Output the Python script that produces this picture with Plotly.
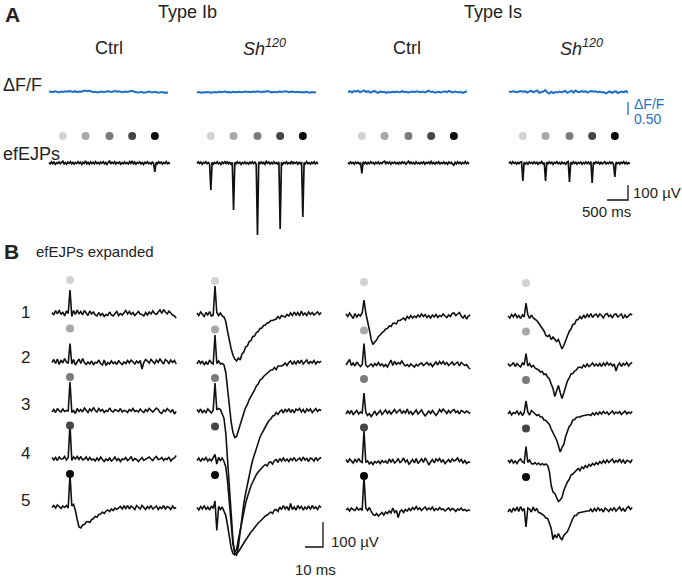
import plotly.graph_objects as go

W, H = 682, 579

# ---------------- data ----------------
group_titles = ["Type Ib", "Type Is"]
col_titles = ["Ctrl", "<i>Sh</i><sup><i>120</i></sup>", "Ctrl", "<i>Sh</i><sup><i>120</i></sup>"]
row_labels = ["1", "2", "3", "4", "5"]
dot_colors = ["#d2d2d2", "#a8a8a8", "#7b7b7b", "#464646", "#0a0a0a"]

stim_times_A = [330, 870, 1440, 1980, 2520]   # ms
dt_A_black = 30    # ms per sample
dt_A_blue = 48     # ms per sample
dt_B = 1           # ms per sample
stim_time_B = 10   # ms

# Panel A: dF/F (percent)
dff_ctrl_ib = [0,2,-1,3,1,-2,2,0,3,1,4,2,0,3,-1,2,1,4,6,3,5,2,0,1,-2,0,2,-1,1,3,2,0,2,4,1,3,-1,1,2,0,3,5,2,0,-2,-1,1,-3,-1,0,2,-2,0,1,-3,-1,0,-2,-4,-1]
dff_sh_ib = [-2,0,-3,-1,-2,0,-1,-3,-1,0,-2,1,-1,0,2,-1,0,-2,1,-1,0,1,-1,1,2,0,1,-1,2,0,3,1,-1,2,1,4,0,-2,1,-1,0,2,0,1,3,1,-1,2,0,-1,1,-1,0,-2,1,-1,-3,0,-2,-1]
dff_ctrl_is = [0,3,-2,4,1,5,-1,2,6,0,3,-2,1,4,0,-3,2,-1,1,-3,0,-2,1,-1,2,-1,0,3,-1,1,-2,0,2,-1,3,1,-1,2,-2,1,5,0,2,-3,-1,1,-2,0,3,-1,4,1,-2,2,0,-2,1,-3,0,3]
dff_sh_is = [2,0,3,1,-1,2,4,0,3,-2,1,5,-1,3,6,-3,-1,2,7,-2,-6,1,-4,0,-2,2,-1,1,4,-3,2,5,-2,6,1,-1,4,0,3,-2,2,4,1,3,-1,2,-2,0,-5,-1,2,-3,1,3,-4,0,2,-1,4,-3]

# Panel A: efEJPs (uV)
efejp_ctrl_ib = [3,-6,8,-4,5,-9,2,-3,7,-5,4,12,-6,3,-8,6,-2,9,-5,4,-7,3,-4,8,-3,6,-9,5,-2,14,-6,4,-8,7,-3,5,-6,9,-4,3,-7,6,-2,8,-5,4,-9,3,16,-6,5,-3,8,-7,4,-2,6,-8,3,-5,7,-4,2,-6,9,-3,14,-5,6,-8,4,-2,7,-6,3,-9,5,-3,8,-4,2,-7,6,-3,-60,4,-5,8,-2,6,-7,3,-4,9,-5,2,-6]
efejp_sh_ib = [-4,7,-3,6,-8,4,-2,9,-5,3,-6,-180,5,-7,4,-3,8,-5,2,-9,6,-3,7,-4,10,-6,3,-8,5,-313,4,-6,8,-2,5,-9,3,-4,7,-5,2,-7,6,-3,9,-4,5,-8,-480,6,-3,7,-5,4,-8,10,-2,6,-7,3,-5,8,-4,2,-6,7,-440,5,-9,4,-3,8,-6,3,-4,12,-7,5,-2,6,-8,4,-5,7,-360,3,-6,9,-4,2,-7,5,-3,8,-5,4,-6]
efejp_ctrl_is = [2,-5,7,-3,4,-8,6,-2,5,-6,3,-70,8,-4,6,-7,3,-5,9,-2,4,-8,5,-3,7,-6,2,-4,8,12,-5,6,-3,7,-8,4,-2,6,-5,3,-7,5,-4,8,-2,6,-9,4,12,-3,6,-5,3,-7,8,-4,2,-6,5,-3,7,-8,4,-2,6,-5,10,-4,3,-7,5,-3,8,-6,2,-4,7,-5,3,-8,6,-2,5,-7,-14,4,-6,8,-3,5,-7,3,-4,9,-5,4,-6]
efejp_sh_is = [-3,6,-5,8,-2,4,-7,3,-4,6,8,-120,5,-6,3,-8,6,-2,4,-5,7,-3,5,-8,4,-2,9,-6,3,-120,6,-4,7,-3,5,-9,4,-2,8,-5,3,-7,6,-4,2,-8,5,9,-127,4,-6,8,-3,5,-7,4,-2,6,-8,3,-5,7,-3,6,-9,10,-133,5,-4,8,-2,6,-7,4,-5,3,8,-6,2,-4,7,-3,5,-8,-93,6,-4,3,-7,5,-2,8,-5,4,-6,3,-4]

# Panel B: expanded efEJPs (uV), rows 1-5
exp_ctrl_ib = [
    [2,-8,10,-4,12,-6,4,-12,8,-2,92,-14,10,-6,12,-4,6,-8,10,-2,-10,8,-4,4,-8,-12,2,-10,-2,-14,-6,-10,4,-8,-12,-2,6,-10,-2,-8,2,10,-4,6,-6,2,-10,0,6,-4,-6,-12,2,-8,4,-4,8,-2,-6,4,12,-2,14,4,-4,8,-2,-8,-12,-20],
    [-4,8,-8,10,-12,6,-6,12,-2,-8,72,-10,8,-14,-2,10,-8,12,-4,-12,-2,-10,2,-12,-4,-6,6,-8,-14,6,-16,-4,-10,2,-8,-2,-12,4,-6,-12,-2,-8,4,-6,6,-4,-10,2,-6,4,-30,-4,8,2,-6,8,-2,-8,6,-4,10,-2,-10,8,2,-8,6,-4,4,-10],
    [-8,2,-10,6,-4,-8,4,-6,-2,-4,112,-10,-2,-14,6,-6,2,-8,8,-2,-10,4,-4,10,-2,-8,6,-4,2,-10,-2,-6,8,-4,-8,2,-2,-6,6,-8,-2,-4,-10,2,-4,6,-6,-2,-8,4,-4,-10,2,-6,6,-2,-8,0,8,2,-10,-14,0,-6,6,-2,-8,2,-16,-6],
    [4,-6,4,-8,6,-2,-2,8,-6,4,135,-8,6,-2,8,-4,8,-6,-2,6,-8,4,-6,-2,-10,2,-8,6,-4,-12,-2,-8,2,-10,-4,6,-8,0,-12,-2,-4,4,-8,-2,8,-10,0,-4,-12,-2,4,-8,-4,0,6,-2,-8,2,8,-4,-2,4,-8,0,-4,6,-10,-2,2,12],
    [-2,6,-4,8,2,-6,4,-2,6,-4,130,4,10,-14,-50,-80,-84,-72,-70,-60,-58,-62,-50,-46,-38,-40,-30,-28,-20,-26,-16,-12,-18,-8,-14,-4,-10,-2,2,-8,4,-6,6,-8,4,-2,-10,6,-2,-8,6,-2,-10,2,-6,6,-8,-2,4,-10,0,-6,6,-8,2,-2,-10,4,-6,-2],
]
exp_sh_ib = [
    [4,-6,8,-2,-10,6,-4,10,-8,-4,112,6,-6,4,-8,-12,-30,-70,-110,-140,-165,-180,-188,-176,-184,-160,-152,-132,-128,-110,-106,-90,-88,-74,-70,-58,-56,-46,-44,-36,-34,-26,-26,-22,-20,-10,-18,-6,-8,-12,-2,-8,4,-6,8,-4,6,-8,12,-4,4,-6,8,-2,6,-4,2,8,-2,6],
    [-6,8,-4,6,-10,2,-8,10,-2,-6,110,-4,6,-6,-4,-10,-40,-110,-180,-240,-280,-300,-296,-270,-248,-220,-202,-180,-168,-148,-136,-120,-110,-94,-86,-70,-66,-56,-50,-42,-38,-30,-30,-20,-28,-14,-14,-14,-10,-2,-12,0,6,-8,4,-6,8,-4,10,-6,2,10,-6,4,-2,8,-6,4,0,6],
    [6,-4,8,-6,2,-6,8,-2,-8,4,112,4,10,6,-10,-30,-90,-200,-320,-430,-520,-570,-576,-540,-480,-420,-370,-330,-290,-255,-225,-195,-170,-145,-125,-105,-90,-75,-60,-50,-38,-32,-20,-18,-6,-14,-2,4,-8,8,-4,10,-6,6,-8,8,2,10,-4,6,-8,8,0,8,-6,4,10,-2,6,2],
    [-4,6,-8,4,-2,8,-6,2,-6,10,20,-18,8,-4,6,-8,-30,-90,-180,-270,-340,-370,-360,-320,-280,-240,-205,-175,-150,-125,-105,-90,-74,-60,-50,-40,-34,-26,-20,-26,-12,-10,-18,-4,0,-12,4,-6,6,-6,2,-8,4,-4,8,-6,0,6,-6,10,-2,4,-8,6,2,-6,8,-4,4,8],
    [2,-8,6,-4,10,-6,4,-8,8,-2,28,-90,6,-6,4,-10,-30,-70,-120,-160,-182,-188,-180,-176,-164,-150,-140,-128,-118,-106,-96,-88,-78,-70,-60,-54,-46,-40,-32,-28,-22,-16,-22,-8,-6,-14,4,-6,10,-4,6,-10,18,-6,4,-8,10,-2,6,-8,4,-4,8,-6,10,-2,4,-6,8,2],
]
exp_ctrl_is = [
    [4,-6,8,-4,-14,6,-8,2,-4,8,60,8,-20,-60,-98,-118,-108,-100,-86,-80,-70,-66,-56,-54,-44,-46,-34,-32,-36,-22,-22,-18,-12,-20,-6,-14,-2,-12,-4,-10,0,-8,4,-6,2,-10,-2,-12,0,-8,2,-10,-2,-6,4,-4,-10,0,-6,6,8,-2,6,10,-4,-12,-2,-16,-4,0],
    [-6,4,16,-8,2,-10,6,-4,-12,-4,80,-6,-14,-8,-2,-12,0,-8,4,-8,-2,-12,-4,-14,0,14,-8,8,-4,4,-2,10,-2,-10,-4,-12,-2,-8,-14,-4,-10,-2,2,-8,-2,4,-6,0,-12,-2,6,-6,8,-2,8,-4,4,-8,-2,6,-6,2,6,-10,4,-2,-8,-4,-16,-22],
    [-8,4,-6,6,-10,-2,6,-8,0,-4,76,-2,-14,-6,-18,-8,4,-12,-4,6,-10,-2,8,-6,4,-8,0,10,-4,2,10,-6,4,-4,12,-6,2,-10,-2,8,-8,0,8,-6,-16,-6,4,-6,6,-4,-14,-4,10,0,12,4,-6,6,-4,6,10,-2,4,-8,6,2,-4,4,0,-6],
    [4,-8,6,-2,-10,4,-6,8,-4,-8,118,-8,-2,-14,-6,-16,-4,-10,-2,-12,0,-8,-2,-12,6,-6,4,-10,-4,8,-8,-2,10,-6,2,-16,-4,4,-10,8,-12,-2,6,-8,10,-2,-18,-6,4,-10,6,-2,8,-6,2,-12,-4,4,-8,6,-2,2,10,-4,4,-10,0,-12,-6,-8],
    [-4,2,-8,4,-2,-6,6,-4,2,-6,130,4,-6,6,-10,-22,-26,-18,-28,-20,-14,-24,-12,-18,-8,-16,4,-14,-6,-34,-10,-4,-14,-2,-8,2,-6,6,-2,10,-2,4,-6,2,8,-4,4,-2,8,-6,2,-4,6,-2,0,-8,-2,4,-6,2,-2,-10,0,-4,4,-6,-2,-8,-4,-6],
]
exp_sh_is = [
    [0,-8,6,-4,10,-6,2,-10,4,-4,52,6,-10,4,-8,-14,-18,-28,-40,-50,-60,-78,-82,-76,-94,-84,-92,-102,-94,-116,-132,-118,-96,-80,-62,-52,-34,-32,-16,-14,-2,-12,4,-8,6,-4,10,-6,4,8,-4,8,2,-8,6,10,-2,4,-8,6,8,-4,2,8,-10,4,-6,2,8,4],
    [4,-6,-2,8,-8,4,-4,-10,6,-2,44,-6,4,-10,-4,-14,-18,-22,-30,-28,-40,-38,-50,-58,-78,-96,-128,-108,-84,-112,-136,-114,-84,-66,-54,-38,-36,-26,-22,-12,-10,-14,-2,-10,2,-8,-2,6,-6,2,-6,4,-8,6,-4,8,-2,4,-6,2,-26,-4,6,-8,4,-2,8,-6,4,8],
    [-4,6,-8,2,-2,8,-6,4,-10,2,48,4,-8,10,4,-4,-10,-6,-16,-16,-28,-30,-38,-46,-64,-78,-92,-108,-130,-156,-138,-126,-94,-76,-54,-46,-28,-26,-18,-16,-16,-12,-10,-8,-6,-6,-10,0,-8,2,-6,4,-4,6,-2,4,-6,2,8,-4,4,-2,6,-6,2,8,-4,4,-2,6],
    [6,-4,8,-6,2,-8,4,10,-2,-6,60,-4,6,-8,-10,-4,-12,-6,-14,-8,-14,-10,-16,-40,-96,-122,-128,-148,-160,-154,-144,-116,-98,-82,-72,-54,-50,-42,-38,-28,-36,-22,-28,-16,-24,-12,-18,-8,-14,-4,-12,0,-8,4,-6,6,-4,2,10,-6,4,-2,10,-4,6,-8,4,2,-4,8],
    [-8,4,-10,8,-4,12,-6,14,-2,6,-68,8,4,-8,12,-4,6,-10,-12,-18,-22,-32,-34,-52,-74,-118,-98,-112,-94,-110,-120,-102,-94,-86,-70,-48,-34,-22,-22,-12,-10,-10,-6,-6,-4,-4,4,-8,6,-4,10,-2,4,-8,8,2,-6,6,-2,10,-4,4,12,-2,6,-6,8,14,2,10],
]

scale_uV = 100
scale_ms_A = 500
scale_ms_B = 10
scale_dff = 50  # percent -> "0.50"

dff_cols = [dff_ctrl_ib, dff_sh_ib, dff_ctrl_is, dff_sh_is]
efejp_cols = [efejp_ctrl_ib, efejp_sh_ib, efejp_ctrl_is, efejp_sh_is]
exp_cols = [exp_ctrl_ib, exp_sh_ib, exp_ctrl_is, exp_sh_is]

# ---------------- layout geometry (pixels) ----------------
BLACK = "#111111"
BLUE = "#1f6fc4"
TXT = "#222222"
FONT = "Liberation Sans, Arial, sans-serif"

A_start = [49, 197, 348, 509]
A_sx = 0.042          # px per ms
A_blue_zero, A_blue_s = 92, 0.26     # px per percent
A_black_zero, A_black_s = 163, 0.15  # px per uV
A_dot_height = 180    # uV above baseline

B_start = [52, 197, 346, 508]
B_sx = 1.8            # px per ms
B_zero = [313, 314, 315, 316]
B_sy = 0.25           # px per uV
B_row_step = 194      # uV between rows
B_dot_height = 132    # uV


def xax(left, right, zero, s):
    return dict(domain=[left / W, right / W], range=[(left - zero) / s, (right - zero) / s],
                visible=False, fixedrange=True)


def yax(top, bot, zero, s):
    return dict(domain=[1 - bot / H, 1 - top / H], range=[(zero - bot) / s, (zero - top) / s],
                visible=False, fixedrange=True)


fig = go.Figure()
layout = {}

# axes: x1..x4 panel A columns, x5..x8 panel B columns; y1 blue, y2 black A, y3..y6 panel B
for c in range(4):
    layout["xaxis" + ("" if c == 0 else str(c + 1))] = xax(A_start[c] - 6, A_start[c] + 132, A_start[c], A_sx)
    layout["xaxis" + str(c + 5)] = xax(B_start[c] - 6, B_start[c] + 134, B_start[c], B_sx)
layout["yaxis"] = yax(60, 124, A_blue_zero, A_blue_s)
layout["yaxis2"] = yax(124, 252, A_black_zero, A_black_s)
for c in range(4):
    layout["yaxis" + str(c + 3)] = yax(262, 579, B_zero[c], B_sy)


def xa(i):
    return "x" if i == 1 else "x" + str(i)


# ---- Panel A traces ----
for c in range(4):
    d = dff_cols[c]
    fig.add_trace(go.Scatter(x=[i * dt_A_blue for i in range(len(d))], y=d, mode="lines",
                             line=dict(color=BLUE, width=2), xaxis=xa(c + 1), yaxis="y",
                             hoverinfo="skip", showlegend=False))
    e = efejp_cols[c]
    fig.add_trace(go.Scatter(x=[i * dt_A_black for i in range(len(e))], y=e, mode="lines",
                             line=dict(color=BLACK, width=1.7), xaxis=xa(c + 1), yaxis="y2",
                             hoverinfo="skip", showlegend=False))
    fig.add_trace(go.Scatter(x=stim_times_A, y=[A_dot_height] * 5, mode="markers",
                             marker=dict(color=dot_colors, size=8, line=dict(width=0)),
                             xaxis=xa(c + 1), yaxis="y2", hoverinfo="skip", showlegend=False))

# ---- Panel A scale bars (in column 4 axes) ----
sbA_x = (628 - A_start[3]) / A_sx
sbA_y = (A_black_zero - 200) / A_black_s
fig.add_trace(go.Scatter(x=[sbA_x - scale_ms_A, sbA_x, sbA_x], y=[sbA_y, sbA_y, sbA_y + scale_uV],
                         mode="lines", line=dict(color=BLACK, width=1.3), xaxis="x4", yaxis="y2",
                         hoverinfo="skip", showlegend=False))
sbF_y = (A_blue_zero - 115) / A_blue_s
fig.add_trace(go.Scatter(x=[sbA_x, sbA_x], y=[sbF_y, sbF_y + scale_dff], mode="lines",
                         line=dict(color=BLUE, width=1.3), xaxis="x4", yaxis="y",
                         hoverinfo="skip", showlegend=False))

# ---- Panel B traces ----
for c in range(4):
    for r, vals in enumerate(exp_cols[c]):
        off = -r * B_row_step
        fig.add_trace(go.Scatter(x=[i * dt_B for i in range(len(vals))], y=[v + off for v in vals],
                                 mode="lines", line=dict(color=BLACK, width=1.6),
                                 xaxis=xa(c + 5), yaxis="y" + str(c + 3),
                                 hoverinfo="skip", showlegend=False))
    fig.add_trace(go.Scatter(x=[stim_time_B] * 5, y=[-r * B_row_step + B_dot_height for r in range(5)],
                             mode="markers", marker=dict(color=dot_colors, size=8, line=dict(width=0)),
                             xaxis=xa(c + 5), yaxis="y" + str(c + 3), hoverinfo="skip", showlegend=False))

# ---- Panel B scale bar (column 2 axes) ----
sbB_x = (323 - B_start[1]) / B_sx
sbB_y = (B_zero[1] - 547) / B_sy
fig.add_trace(go.Scatter(x=[sbB_x - scale_ms_B, sbB_x, sbB_x], y=[sbB_y, sbB_y, sbB_y + scale_uV],
                         mode="lines", line=dict(color=BLACK, width=1.3), xaxis="x6", yaxis="y4",
                         hoverinfo="skip", showlegend=False))

# ---- Text ----
anns = []


def ann(text, x, y, size, xanchor="center", color=TXT):
    anns.append(dict(text=text, x=x / W, y=1 - y / H, xref="paper", yref="paper",
                     xanchor=xanchor, yanchor="middle", showarrow=False,
                     font=dict(family=FONT, size=size, color=color)))


ann("<b>A</b>", 3, 14, 21, "left")
ann("<b>B</b>", 2, 251, 21, "left")
ann(group_titles[0], 188, 12, 18)
ann(group_titles[1], 493, 12, 18)
for c, xc in enumerate([109, 264, 407, 581]):
    ann(col_titles[c], xc, 48, 18)
ann("ΔF/F", 1, 85, 18, "left")
ann("efEJPs", 1, 154, 18, "left")
ann("efEJPs expanded", 34, 251, 15, "left")
for r, yc in enumerate([312, 357, 404, 453, 500]):
    ann(row_labels[r], 25, yc, 17)
ann("ΔF/F", 632, 104, 14, "left", BLUE)
ann("0.50", 632, 119, 14, "left", BLUE)
ann("100 µV", 631, 192, 15, "left")
ann("500 ms", 606, 211, 15)
ann("100 µV", 329, 541, 15, "left")
ann("10 ms", 315, 569, 15)

fig.update_layout(width=W, height=H, margin=dict(l=0, r=0, t=0, b=0), autosize=False,
                  plot_bgcolor="white", paper_bgcolor="white", annotations=anns,
                  showlegend=False, **layout)

fig.write_html("out.html", config={"displayModeBar": False, "staticPlot": True},
               post_script="document.body.style.margin='0';document.body.style.overflow='hidden';")
